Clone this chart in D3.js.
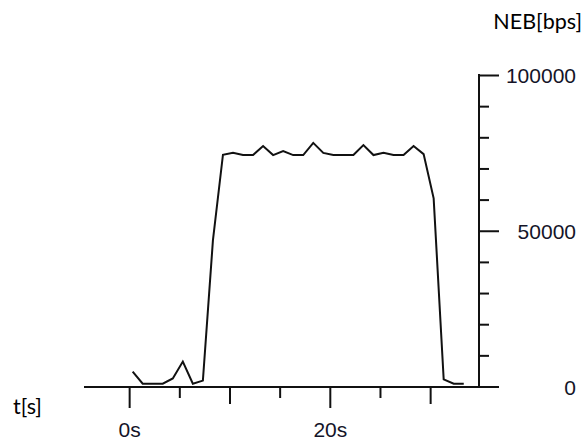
<!DOCTYPE html>
<html>
<head>
<meta charset="utf-8">
<script src="https://cdn.jsdelivr.net/npm/d3@7"></script>
<style>
  html, body { margin: 0; padding: 0; background: #fff; }
  svg { display: block; }
</style>
</head>
<body>
<svg id="chart" width="586" height="445"></svg>
<script>
// ---- data ----
const times = [0.35, 1.35, 2.35, 3.35, 4.35, 5.35, 6.35, 7.35, 8.35, 9.35,
               10.35, 11.35, 12.35, 13.35, 14.35, 15.35, 16.35, 17.35, 18.35, 19.35,
               20.35, 21.35, 22.35, 23.35, 24.35, 25.35, 26.35, 27.35, 28.35, 29.35,
               30.35, 31.35, 32.35, 33.35];
const neb = [4800, 900, 900, 900, 2600, 8000, 900, 1900, 46900, 74400,
             75000, 74300, 74300, 77200, 74300, 75600, 74300, 74300, 78200, 75000,
             74300, 74300, 74300, 77500, 74300, 75000, 74300, 74300, 77200, 74600,
             60400, 2300, 900, 900];
const xTicks = [0, 5, 10, 15, 20, 25, 30];
const xLabelTicks = [0, 20];
const yTicks = [0, 10000, 20000, 30000, 40000, 50000, 60000, 70000, 80000, 90000, 100000];
const yLabelTicks = [0, 50000, 100000];
const xTitle = "t[s]";
const yTitle = "NEB[bps]";

// ---- layout ----
const svg = d3.select("#chart");
const x = d3.scaleLinear().domain([-4.5, 34.87]).range([84, 479]);
const y = d3.scaleLinear().domain([0, 100000]).range([386.5, 75]);
const axisY = 387;
const ink = "#111";
const labelInk = "#141428";

// x axis
const xAxis = d3.axisBottom(x)
  .tickValues(xTicks)
  .tickSize(11)
  .tickSizeOuter(0)
  .tickFormat(d => xLabelTicks.includes(d) ? d + "s" : "");
const gx = svg.append("g").attr("transform", `translate(0,${axisY})`).call(xAxis);
gx.select(".domain").attr("stroke", ink).attr("stroke-width", 2)
  .attr("d", `M${x.range()[0]},0H${x.range()[1]}`);
gx.selectAll(".tick line")
  .attr("stroke", ink).attr("stroke-width", 2)
  .attr("y2", d => xLabelTicks.includes(d) ? 21 : (d % 10 === 0 ? 17 : 11));
gx.selectAll(".tick text")
  .attr("y", 50).attr("dy", 0)
  .attr("fill", labelInk)
  .style("font-family", "'Liberation Sans', Arial, sans-serif")
  .style("font-size", "21px");

// y axis (right side)
const yAxis = d3.axisRight(y)
  .tickValues(yTicks)
  .tickSize(10)
  .tickSizeOuter(0)
  .tickFormat(d => yLabelTicks.includes(d) ? String(d) : "");
const gy = svg.append("g").attr("transform", `translate(${x.range()[1]},0)`).call(yAxis);
gy.select(".domain").attr("stroke", ink).attr("stroke-width", 2)
  .attr("d", `M0,${y(100000) - 1}V${axisY + 1}`);
gy.selectAll(".tick line")
  .attr("stroke", ink).attr("stroke-width", 2)
  .attr("x1", -1)
  .attr("x2", d => yLabelTicks.includes(d) ? 20 : 10);
gy.selectAll(".tick text")
  .attr("x", 97).attr("dy", "0.36em")
  .attr("text-anchor", "end")
  .attr("fill", labelInk)
  .style("font-family", "'Liberation Sans', Arial, sans-serif")
  .style("font-size", "21px");

// axis titles
svg.append("text")
  .attr("x", 582).attr("y", 29)
  .attr("text-anchor", "end")
  .attr("fill", "#000")
  .style("font-family", "Lato, 'Open Sans', sans-serif")
  .style("font-size", "21.5px")
  .text(yTitle);
svg.append("text")
  .attr("x", 13).attr("y", 414)
  .attr("fill", "#000")
  .style("font-family", "Lato, 'Open Sans', sans-serif")
  .style("font-size", "21.5px")
  .text(xTitle);

// data line
const line = d3.line()
  .x((d, i) => x(times[i]))
  .y(d => y(d));
svg.append("path")
  .datum(neb)
  .attr("fill", "none")
  .attr("stroke", ink)
  .attr("stroke-width", 2)
  .attr("stroke-linejoin", "miter")
  .attr("d", line);
</script>
</body>
</html>
